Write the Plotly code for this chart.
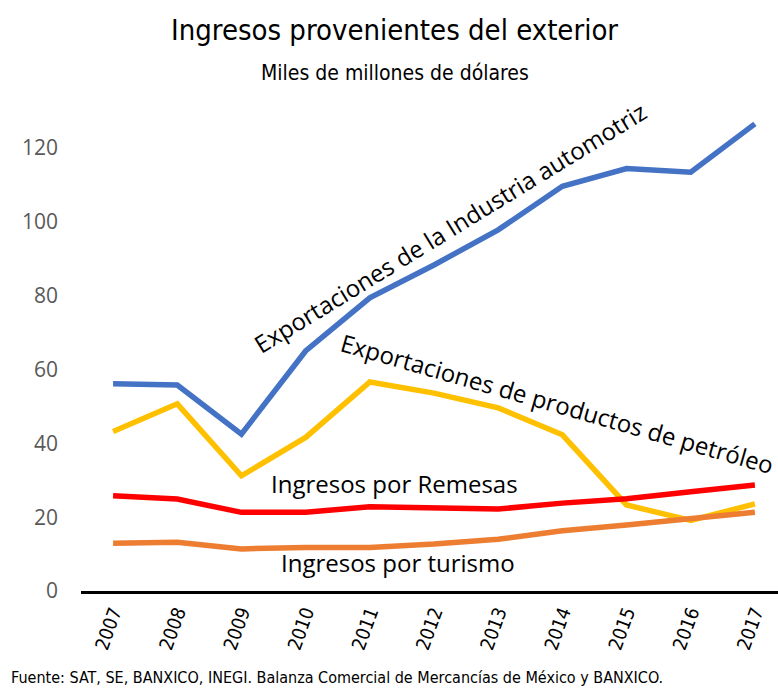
import plotly.graph_objects as go

years = [2007, 2008, 2009, 2010, 2011, 2012, 2013, 2014, 2015, 2016, 2017]
automotriz = [56.1, 55.8, 42.5, 65.0, 79.4, 88.3, 97.8, 109.6, 114.4, 113.4, 126.5]
petroleo = [43.2, 50.7, 31.2, 41.6, 56.6, 53.6, 49.6, 42.3, 23.3, 19.1, 23.6]
remesas = [25.8, 24.9, 21.3, 21.3, 22.8, 22.5, 22.2, 23.8, 25.0, 26.9, 28.7]
turismo = [12.9, 13.2, 11.4, 11.8, 11.8, 12.7, 14.0, 16.3, 17.9, 19.7, 21.3]

y_ticks = [0, 20, 40, 60, 80, 100, 120]

series = [
    (automotriz, "#4472C4"),
    (petroleo, "#FFC000"),
    (remesas, "#FF0000"),
    (turismo, "#ED7D31"),
]

NARROW = "DejaVu Sans Condensed, Liberation Sans Narrow, sans-serif"
BODY = "Open Sans, sans-serif"

fig = go.Figure()
for values, color in series:
    fig.add_trace(go.Scatter(
        x=years, y=values, mode="lines",
        line=dict(color=color, width=5.5),
        hoverinfo="skip", showlegend=False,
    ))

# series labels placed alongside their lines
labels = [
    dict(x=2012.25, y=98.4, text="Exportaciones de la Industria automotriz", textangle=-31.5),
    dict(x=2013.93, y=50.9, text="Exportaciones de productos de petróleo", textangle=16),
    dict(x=2011.39, y=29.0, text="Ingresos por Remesas", textangle=0),
    dict(x=2011.44, y=7.6, text="Ingresos por turismo", textangle=0),
]
for lab in labels:
    fig.add_annotation(
        x=lab["x"], y=lab["y"], text=lab["text"], textangle=lab["textangle"],
        showarrow=False, font=dict(family=BODY, size=24, color="#000000"),
    )

# title, subtitle and source note
fig.add_annotation(
    xref="paper", yref="paper", x=0.4505, xanchor="center",
    y=1.0, yanchor="middle", yshift=81,
    text="Ingresos provenientes del exterior", showarrow=False,
    font=dict(family=NARROW, size=29, color="#000000"),
)
fig.add_annotation(
    xref="paper", yref="paper", x=0.4505, xanchor="center",
    y=1.0, yanchor="middle", yshift=38,
    text="Miles de millones de dólares", showarrow=False,
    font=dict(family=NARROW, size=21, color="#000000"),
)
fig.add_annotation(
    xref="paper", yref="paper", xanchor="left", yanchor="middle",
    x=-0.103, y=0, yshift=-86, showarrow=False,
    text="Fuente: SAT, SE, BANXICO, INEGI. Balanza Comercial de Mercancías de México y BANXICO.",
    font=dict(family=NARROW, size=16, color="#000000"),
)

fig.update_layout(
    width=778, height=688,
    margin=dict(l=81, r=0, t=111, b=97),
    paper_bgcolor="white", plot_bgcolor="white",
    xaxis=dict(
        range=[2006.5, 2017.36], tickmode="array", tickvals=years,
        ticktext=[str(y) for y in years], tickangle=-70,
        showgrid=False, zeroline=False, showline=True,
        linecolor="#000000", linewidth=3, ticks="",
        ticklabelstandoff=0,
        tickfont=dict(family=NARROW, size=19, color="#000000"),
    ),
    yaxis=dict(
        range=[0, 130], tickmode="array", tickvals=y_ticks,
        showgrid=False, zeroline=False, showline=False, ticks="",
        ticklabelstandoff=22,
        tickfont=dict(family=BODY, size=21, color="#595959"),
    ),
)

fig.write_html("out.html")
